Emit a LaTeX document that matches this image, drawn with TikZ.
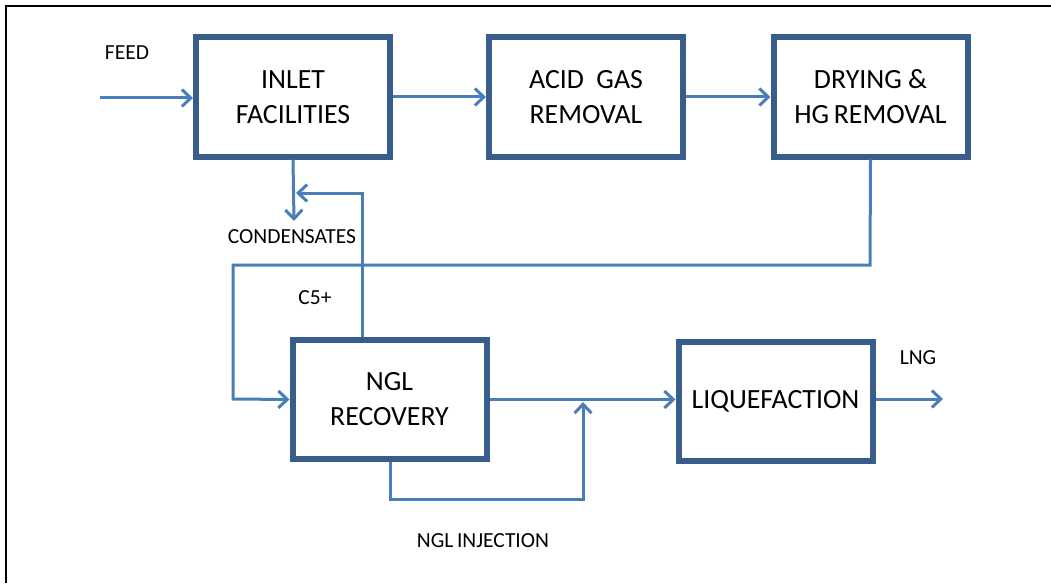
\documentclass[tikz,border=0pt]{standalone}
\usepackage{fontspec}
\setmainfont{Carlito}
\usetikzlibrary{arrows.meta}
\definecolor{boxblue}{HTML}{385D8A}
\definecolor{lineblue}{HTML}{4A7EBB}
\tikzset{
  unitbox/.style={draw=boxblue, line width=6pt, minimum width=194pt, minimum height=119pt,
    align=center, font=\fontsize{27.8}{35}\selectfont, inner sep=0pt},
  flow/.style={draw=lineblue, line width=3pt, -{Straight Barb[length=9pt,width=17pt]}},
  lbl/.style={font=\fontsize{21.5}{24}\selectfont, inner sep=0pt},
  frame/.style={draw=black, line width=2.6pt}
}
\begin{document}
\begin{tikzpicture}[x=1pt, y=-1pt]
\useasboundingbox (0,0) rectangle (1051,583);
\fill[white] (0,0) rectangle (1051,583);
\draw[frame] (5,6) -- (1051,6);
\draw[frame] (6,5) -- (6,583);

\node[unitbox] (inlet) at (293,97) {INLET\\FACILITIES};
\node[unitbox] (acid) at (586,97) {ACID\ \ GAS\\REMOVAL};
\node[unitbox] (dry) at (870.5,97) {DRYING \&\\HG\,REMOVAL};
\node[unitbox] (ngl) at (389.5,399.5) {NGL\\RECOVERY};
\node[unitbox] (liq) at (775.5,401.5) {LIQUEFACTION};

\node[lbl] (feed) at (127,53) {FEED};
\node[lbl] (cond) at (292,237) {CONDENSATES};
\node[lbl] (c5) at (315,298) {C5+};
\node[lbl] (inj) at (483,541) {NGL\,INJECTION};
\node[lbl] (lng) at (918,358) {LNG};

\coordinate (feedstart) at (100,98);
\coordinate (condend) at (294,221);
\coordinate (c5end) at (296,193);
\coordinate (injend) at (583,402);
\coordinate (lngend) at (943,399);

\draw[flow] (feedstart) -- (feedstart -| inlet.west);
\draw[flow] (inlet.east) -- (acid.west);
\draw[flow] (acid.east) -- (dry.west);
\draw[flow] (dry.south) -- (870,265) -- (233,265) -- (233,399) -- (ngl.west);
\draw[flow] (inlet.south) -- (condend);
\draw[flow] (ngl.north -| 362,0) -- (362,193) -- (c5end);
\draw[flow] (ngl.east) -- (ngl.east -| liq.west);
\draw[flow] (ngl.south -| 390,0) -- (390,499) -- (583,499) -- (injend);
\draw[flow] (liq.east |- lngend) -- (lngend);
\end{tikzpicture}
\end{document}
